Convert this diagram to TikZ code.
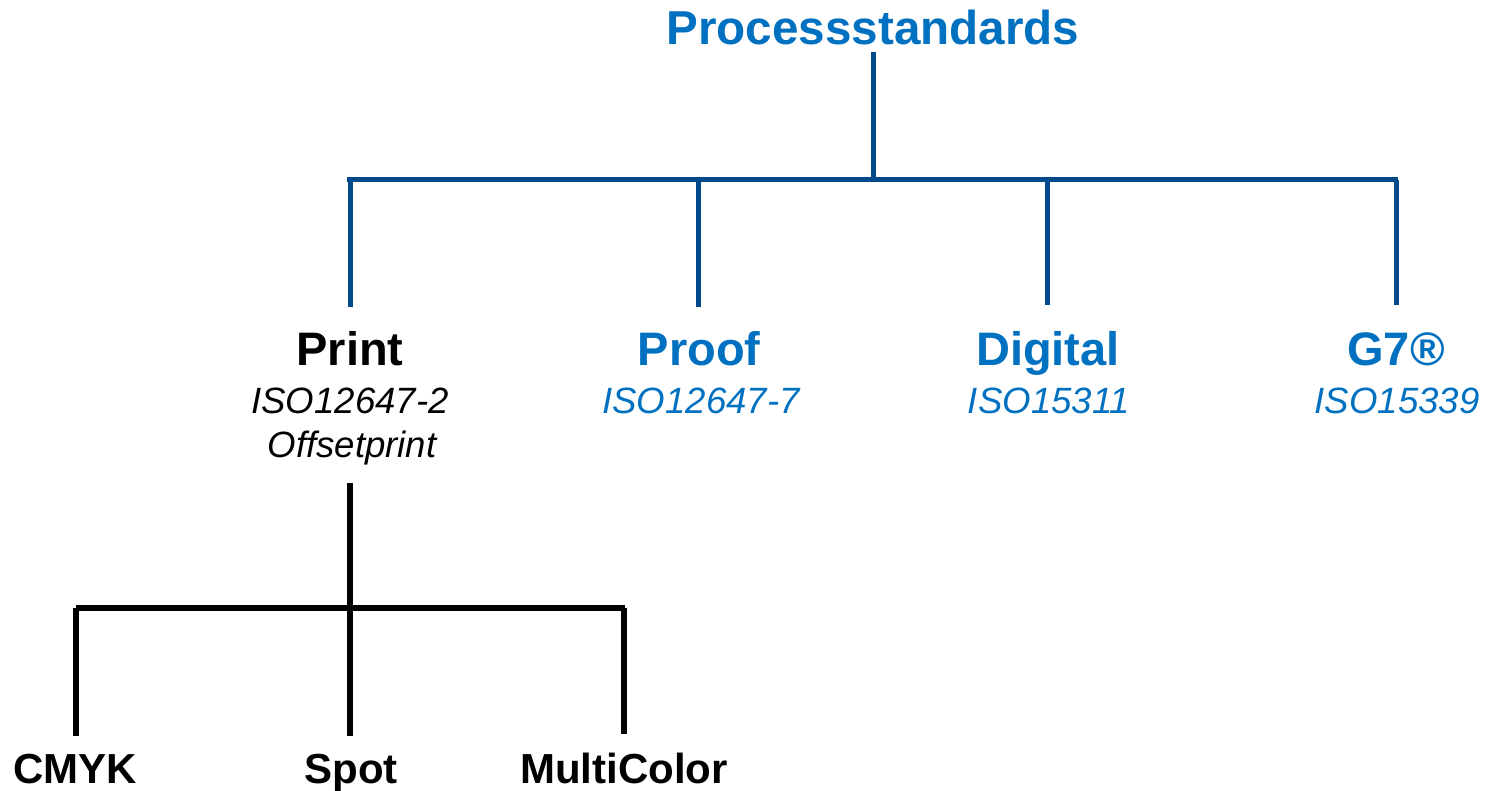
\documentclass[tikz,border=0pt]{standalone}
\usepackage{fontspec}
\setmainfont{Liberation Sans}
\definecolor{txtblue}{HTML}{0070C0}
\definecolor{lineblue}{HTML}{004A8C}
\begin{document}
\begin{tikzpicture}[x=0.5pt,y=-0.5pt,
  bluel/.style={draw=lineblue,line width=2.5pt},
  blackl/.style={draw=black,line width=2.6pt},
  head/.style={anchor=base,inner sep=0pt,font=\fontsize{23.5}{28}\selectfont\bfseries},
  sub/.style={anchor=base,inner sep=0pt,font=\fontsize{18.3}{22}\selectfont\itshape},
  leaf/.style={anchor=base,inner sep=0pt,font=\fontsize{21}{25}\selectfont\bfseries}]
\useasboundingbox (0,0) rectangle (1487,791);
% texts
\node[head,text=txtblue,font=\fontsize{23.8}{28}\selectfont\bfseries] (root) at (873,45) {Processstandards};
\node[head] (print) at (350,365) {Print};
\node[sub] (printiso) at (350,413) {ISO12647-2};
\node[sub] (printoff) at (352,457) {Offsetprint};
\node[head,text=txtblue] (proof) at (699,365) {Proof};
\node[sub,text=txtblue] (proofiso) at (701,413) {ISO12647-7};
\node[head,text=txtblue] (digital) at (1048,365) {Digital};
\node[sub,text=txtblue] (digiso) at (1049,413) {ISO15311};
\node[head,text=txtblue] (gseven) at (1396,365) {G7®};
\node[sub,text=txtblue] (g7iso) at (1397,413) {ISO15339};
\node[leaf] (cmyk) at (75,783) {CMYK};
\node[leaf] (spot) at (351,783) {Spot};
\node[leaf] (multi) at (624,783) {MultiColor};
% junction coordinates
\coordinate (r0) at (873,52);
\coordinate (r1) at (873,180);
\coordinate (hl) at (347,180);
\coordinate (hr) at (1398,180);
\coordinate (a1) at (350,180); \coordinate (a2) at (350,307);
\coordinate (b1) at (698,180); \coordinate (b2) at (698,307);
\coordinate (c1) at (1047,180); \coordinate (c2) at (1047,305);
\coordinate (d1) at (1396,180); \coordinate (d2) at (1396,305);
\coordinate (p0) at (350,483);
\coordinate (ql) at (76,608);
\coordinate (qr) at (625,608);
\coordinate (k1) at (76,608); \coordinate (k2) at (76,736);
\coordinate (s2) at (350,736);
\coordinate (m1) at (624,608); \coordinate (m2) at (624,734);
% blue tree
\draw[bluel] (r0) -- (r1);
\draw[bluel] (hl) -- (hr);
\draw[bluel] (a1) -- (a2);
\draw[bluel] (b1) -- (b2);
\draw[bluel] (c1) -- (c2);
\draw[bluel] (d1) -- (d2);
% black tree
\draw[blackl] (p0) -- (s2);
\draw[blackl] (ql) -- (qr);
\draw[blackl] (k1) -- (k2);
\draw[blackl] (m1) -- (m2);
\end{tikzpicture}
\end{document}
